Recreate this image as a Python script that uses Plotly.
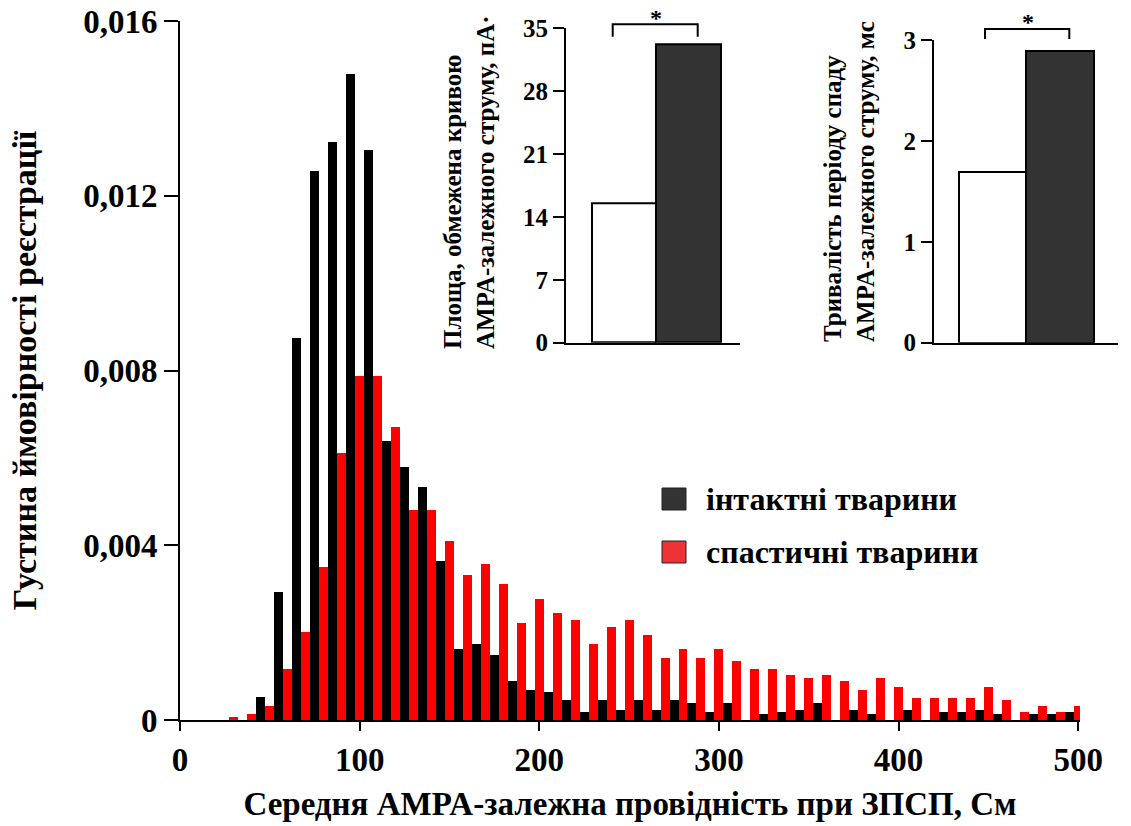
import plotly.graph_objects as go

# ---------------- data ----------------
x_intact = list(range(45, 500, 10))
intact_density = [0.00052, 0.00292, 0.00874, 0.01257, 0.01322, 0.01479, 0.01304, 0.00639,
                  0.00578, 0.00533, 0.00364, 0.00162, 0.00175, 0.00148, 0.00090, 0.00069,
                  0.00064, 0.00045, 0.00018, 0.00045, 0.00024, 0.00045, 0.00024, 0.00045,
                  0.00038, 0.00018, 0.00038, 0.0, 0.00013, 0.00018, 0.00024, 0.00038,
                  0.0, 0.00024, 0.00013, 0.0, 0.00024, 0.0, 0.00018, 0.00018,
                  0.00024, 0.00013, 0.0, 0.00013, 0.00013, 0.00018]
x_spastic = list(range(30, 510, 10))
spastic_density = [0.00006, 0.00013, 0.00033, 0.00116, 0.00201, 0.00351, 0.00612, 0.00788,
                   0.00788, 0.00670, 0.00481, 0.00481, 0.00409, 0.00331, 0.00357, 0.00311,
                   0.00221, 0.00278, 0.00246, 0.00228, 0.00175, 0.00214, 0.00228, 0.00195,
                   0.00142, 0.00163, 0.00142, 0.00163, 0.00135, 0.00116, 0.00116, 0.00102,
                   0.00097, 0.00102, 0.00089, 0.00069, 0.00097, 0.00076, 0.00051, 0.00051,
                   0.00051, 0.00051, 0.00076, 0.00045, 0.00018, 0.00032, 0.00018, 0.00032]

y_tickvals = [0, 0.004, 0.008, 0.012, 0.016]
y_ticktext = ["0", "0,004", "0,008", "0,012", "0,016"]
x_tickvals = [0, 100, 200, 300, 400, 500]

groups = ["інтактні тварини", "спастичні тварини"]
area_values = [15.5, 33.2]
area_ticks = [0, 7, 14, 21, 28, 35]
decay_values = [1.69, 2.89]
decay_ticks = [0, 1, 2, 3]

# ---------------- layout helpers ----------------
W, H = 1131, 826
def px(x):
    return x / W
def py(y):
    return 1 - y / H

FONT = "Liberation Serif, Times New Roman, serif"
BAR_BLACK = "#000000"
BAR_RED = "#ff0000"

fig = go.Figure()

fig.add_trace(go.Bar(x=x_intact, y=intact_density, width=5, name=groups[0],
                     marker=dict(color=BAR_BLACK, line=dict(width=0)),
                     xaxis="x", yaxis="y", showlegend=False))
fig.add_trace(go.Bar(x=x_spastic, y=spastic_density, width=5, name=groups[1],
                     marker=dict(color=BAR_RED, line=dict(width=0)),
                     xaxis="x", yaxis="y", showlegend=False))

fig.add_trace(go.Bar(x=groups, y=area_values, width=1,
                     marker=dict(color=["#ffffff", "#333333"], line=dict(color="#000000", width=2)),
                     xaxis="x2", yaxis="y2", showlegend=False))
fig.add_trace(go.Bar(x=groups, y=decay_values, width=1,
                     marker=dict(color=["#ffffff", "#333333"], line=dict(color="#000000", width=2)),
                     xaxis="x3", yaxis="y3", showlegend=False))

tickfont_main = dict(family=FONT, size=33, color="#000", weight="bold")
tickfont_inset = dict(family=FONT, size=25, color="#000", weight="bold")

fig.update_layout(
    width=W, height=H,
    margin=dict(l=0, r=0, t=0, b=0),
    paper_bgcolor="white", plot_bgcolor="rgba(0,0,0,0)",
    barmode="overlay", bargap=0,
    showlegend=False,
    xaxis=dict(domain=[px(180), px(1080)], range=[0, 501], anchor="y",
               tickvals=x_tickvals, ticks="outside", ticklen=9, tickwidth=2, tickcolor="#000",
               showline=True, linecolor="#000", linewidth=2, showgrid=False, zeroline=False,
               tickfont=tickfont_main, automargin=False,
               title=dict(text="<b>Середня AMPA-залежна провідність при ЗПСП, См</b>",
                          font=dict(family=FONT, size=33, color="#000", weight="bold"),
                          standoff=15)),
    yaxis=dict(domain=[py(720), py(21)], range=[0, 0.016], anchor="x",
               tickvals=y_tickvals, ticktext=y_ticktext, ticks="outside", ticklen=14,
               tickwidth=2, tickcolor="#000",
               showline=True, linecolor="#000", linewidth=2, showgrid=False, zeroline=False,
               tickfont=tickfont_main, automargin=False,
               title=dict(text="<b>Густина ймовірності реєстрації</b>",
                          font=dict(family=FONT, size=34, color="#000", weight="bold"),
                          standoff=36)),
    xaxis2=dict(domain=[px(566), px(740)], range=[-0.9, 1.8], anchor="y2",
                showticklabels=False, ticks="", showline=True, linecolor="#000", linewidth=2,
                showgrid=False, zeroline=False, automargin=False),
    yaxis2=dict(domain=[py(342.7), py(28.3)], range=[0, 35], anchor="x2",
                tickvals=area_ticks, ticks="outside", ticklen=11, tickwidth=2, tickcolor="#000",
                showline=True, linecolor="#000", linewidth=2, showgrid=False, zeroline=False,
                tickfont=tickfont_inset, automargin=False),
    xaxis3=dict(domain=[px(934), px(1118)], range=[-0.87, 1.86], anchor="y3",
                showticklabels=False, ticks="", showline=True, linecolor="#000", linewidth=2,
                showgrid=False, zeroline=False, automargin=False),
    yaxis3=dict(domain=[py(342.7), py(40)], range=[0, 3], anchor="x3",
                tickvals=decay_ticks, ticks="outside", ticklen=11, tickwidth=2, tickcolor="#000",
                showline=True, linecolor="#000", linewidth=2, showgrid=False, zeroline=False,
                tickfont=tickfont_inset, automargin=False),
)

shapes = []
annotations = []

# significance brackets and stars
for (x0, x1, ytop, yleg, xs, ys) in [(612.7, 697.7, 24.3, 36.7, 656, 18),
                                     (985, 1069.3, 29, 39, 1028, 22)]:
    shapes.append(dict(type="path", xref="paper", yref="paper",
                       path=f"M {px(x0)},{py(yleg)} L {px(x0)},{py(ytop)} L {px(x1)},{py(ytop)} L {px(x1)},{py(yleg)}",
                       line=dict(color="#000", width=2)))
    annotations.append(dict(text="<b>*</b>", xref="paper", yref="paper", x=px(xs), y=py(ys),
                            xanchor="center", yanchor="middle", showarrow=False,
                            font=dict(family=FONT, size=24, color="#000", weight="bold")))

# inset axis titles
annotations.append(dict(text="<b>Площа, обмежена кривою</b><br><b>AMPA-залежного струму, пА·</b>",
                        xref="paper", yref="paper", x=px(469), y=py(182),
                        xanchor="center", yanchor="middle", textangle=-90, align="left",
                        showarrow=False,
                        font=dict(family=FONT, size=25, color="#000", weight="bold")))
annotations.append(dict(text="<b>Тривалість періоду спаду</b><br><b>AMPA-залежного струму, мс</b>",
                        xref="paper", yref="paper", x=px(849), y=py(182),
                        xanchor="center", yanchor="middle", textangle=-90, align="left",
                        showarrow=False,
                        font=dict(family=FONT, size=25, color="#000", weight="bold")))

# legend (squares + labels)
for (label, color, yc) in [(groups[0], "#333333", 499), (groups[1], "#ee3338", 552)]:
    shapes.append(dict(type="rect", xref="paper", yref="paper",
                       x0=px(662), x1=px(686), y0=py(yc + 11), y1=py(yc - 11),
                       fillcolor=color, line=dict(color="#222", width=1)))
    annotations.append(dict(text=f"<b>{label}</b>", xref="paper", yref="paper", x=px(704), y=py(yc),
                            xanchor="left", yanchor="middle", showarrow=False,
                            font=dict(family=FONT, size=32, color="#000", weight="bold")))

fig.update_layout(shapes=shapes, annotations=annotations)

fig.write_html("out.html")
